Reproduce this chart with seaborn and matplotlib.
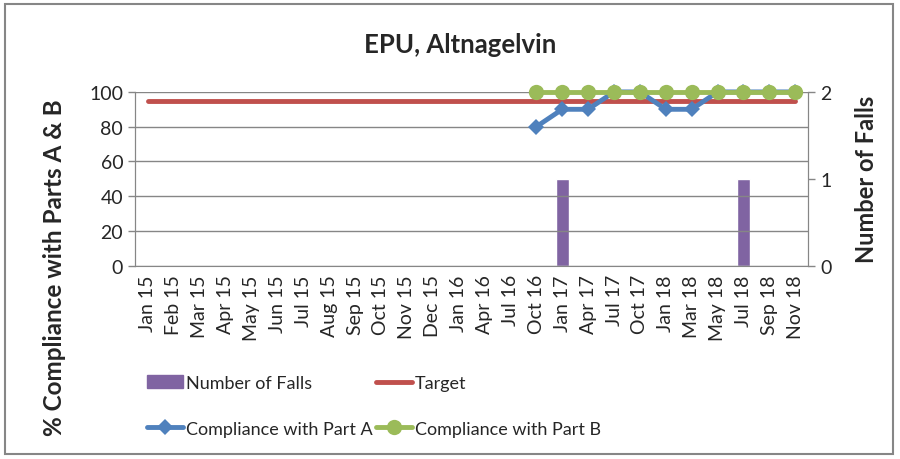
import numpy as np
import pandas as pd
import seaborn as sns
import matplotlib.pyplot as plt
from matplotlib.lines import Line2D
from matplotlib.patches import Patch, Rectangle

months = ["Jan 15", "Feb 15", "Mar 15", "Apr 15", "May 15", "Jun 15", "Jul 15",
          "Aug 15", "Sep 15", "Oct 15", "Nov 15", "Dec 15", "Jan 16", "Apr 16",
          "Jul 16", "Oct 16", "Jan 17", "Apr 17", "Jul 17", "Oct 17", "Jan 18",
          "Mar 18", "May 18", "Jul 18", "Sep 18", "Nov 18"]
n_pre = 15
falls = [0] * 16 + [1] + [0] * 6 + [1] + [0] * 2
target = [95] * 26
part_a = [np.nan] * n_pre + [80, 90, 90, 100, 100, 90, 90, 100, 100, 100, 100]
part_b = [np.nan] * n_pre + [100] * 11

df = pd.DataFrame({"pos": np.arange(len(months)), "month": months, "falls": falls,
                   "target": target, "a": part_a, "b": part_b})

sns.set_style("white")
plt.rcParams['font.family'] = ['Lato', 'DejaVu Sans']

grey = "#868686"
fig = plt.figure(figsize=(9, 4.6), dpi=100)
ax = fig.add_axes([0.15, 0.42, 0.748, 0.378])
ax2 = ax.twinx()
ax.set_zorder(2)
ax.patch.set_visible(False)

sns.barplot(data=df, x="pos", y="falls", ax=ax2, native_scale=True, width=0.5,
            color="#8064A2", saturation=1)
sns.lineplot(data=df, x="pos", y="target", ax=ax, color="#C0504D", lw=3.5)
sns.lineplot(data=df, x="pos", y="a", ax=ax, color="#4F81BD", lw=3.5,
             marker="D", markersize=8, markeredgewidth=0, clip_on=False)
sns.lineplot(data=df, x="pos", y="b", ax=ax, color="#9BBB59", lw=3.5,
             marker="o", markersize=11, markeredgewidth=0, clip_on=False)

ax.set_xlim(-0.5, len(months) - 0.5)
ax.set_ylim(0, 100)
ax2.set_ylim(0, 2)
ax.set_yticks(range(0, 101, 20))
ax2.set_yticks([0, 1, 2])
ax.set_xticks(df["pos"])
ax.set_xticklabels(months, rotation=90)
ax.set_xticks(np.arange(-0.5, len(months), 1), minor=True)
ax.tick_params(axis="x", which="major", length=0, pad=6, labelsize=14)
ax.tick_params(axis="x", which="minor", length=5, color=grey, width=1, direction="out")
ax.tick_params(axis="y", length=5, color=grey, width=1, direction="out", labelsize=14)
ax2.tick_params(axis="y", length=5, color=grey, width=1, direction="out", labelsize=14)
ax.yaxis.grid(True, color=grey, lw=1)
ax.set_axisbelow(True)
ax.set_xlabel("")
ax.set_ylabel("")
ax2.set_ylabel("")

for a in (ax, ax2):
    a.spines["top"].set_visible(False)
    for s in ("left", "right", "bottom"):
        a.spines[s].set_color(grey)
ax2.spines["bottom"].set_visible(False)

fig.text(0.511, 0.902, "EPU, Altnagelvin", ha="center", va="center",
         fontsize=18.5, fontweight="bold")
fig.text(0.061, 0.417, "% Compliance with Parts A & B", rotation=90, ha="center",
         va="center", fontsize=17.5, fontweight="bold")
fig.text(0.963, 0.61, "Number of Falls", rotation=90, ha="center", va="center",
         fontsize=17, fontweight="bold")

handles = [Patch(color="#8064A2"),
           Line2D([], [], color="#4F81BD", lw=3.5, marker="D", markersize=8, markeredgewidth=0),
           Line2D([], [], color="#C0504D", lw=3.5),
           Line2D([], [], color="#9BBB59", lw=3.5, marker="o", markersize=11, markeredgewidth=0)]
labels = ["Number of Falls", "Compliance with Part A", "Target", "Compliance with Part B"]
fig.legend(handles, labels, ncol=2, loc="upper left", bbox_to_anchor=(0.163, 0.183),
           frameon=False, fontsize=13, handlelength=2.0, handletextpad=0.15,
           columnspacing=0.2, labelspacing=1.65, borderpad=0, borderaxespad=0)

fig.patches.append(Rectangle((0.006, 0.01), 0.986, 0.98, transform=fig.transFigure,
                             fill=False, edgecolor=grey, lw=1.5))

fig.savefig("out.png", dpi=100)
